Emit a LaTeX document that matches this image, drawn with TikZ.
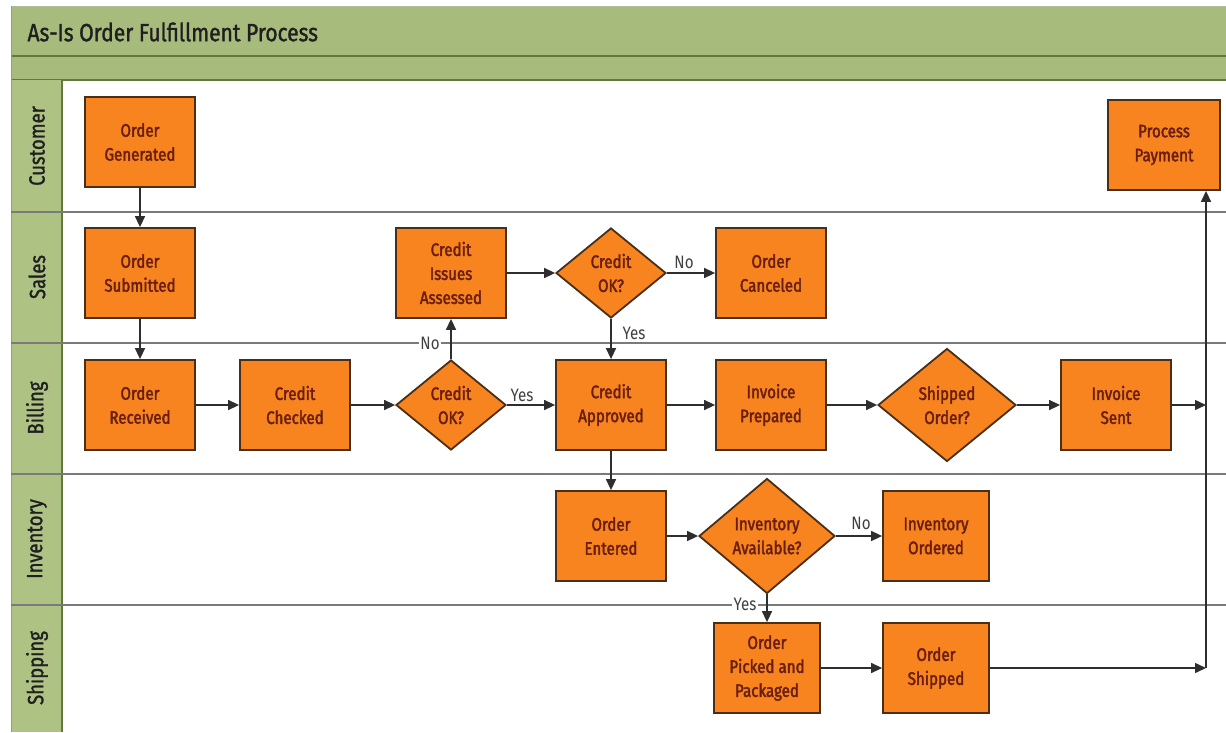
\documentclass[tikz,border=0pt]{standalone}
\usepackage{fontspec}
\setmainfont{Fira Sans}
\newfontfamily\cond{Fira Sans}[FakeStretch=0.84]
\newfontfamily\condmed{Fira Sans}[FakeStretch=0.84, FakeBold=1.3]
\newfontfamily\condbox{Fira Sans}[FakeStretch=0.84, FakeBold=2.2]
\usetikzlibrary{shapes.geometric,arrows.meta}
\definecolor{titlegreen}{HTML}{A7BB7C}
\definecolor{bordergreen}{HTML}{5F7A3C}
\definecolor{lanegreen}{HTML}{ADC283}
\definecolor{boxorange}{HTML}{F7841F}
\definecolor{boxborder}{HTML}{4A2E16}
\definecolor{boxtext}{HTML}{6A1E12}
\definecolor{lanegray}{HTML}{7A7A7A}
\definecolor{arrowgray}{HTML}{2E2E2E}
\tikzset{
  procbox/.style={draw=boxborder, line width=1.8pt, fill=boxorange, rectangle,
    minimum width=110pt, minimum height=90pt, inner sep=2pt, align=center,
    text=boxtext, font=\condbox\fontsize{18}{24}\selectfont},
  decbox/.style={draw=boxborder, line width=1.8pt, fill=boxorange, diamond,
    minimum width=110pt, minimum height=90pt, inner sep=0pt, align=center,
    text=boxtext, font=\condbox\fontsize{18}{24}\selectfont},
  arr/.style={draw=arrowgray, line width=1.4pt, -{Triangle[length=11pt,width=10pt]}},
  lanelabel/.style={rotate=90, font=\condmed\fontsize{22}{24}\selectfont, text=black!88},
  elabel/.style={font=\cond\fontsize{18}{20}\selectfont, text=black!75, inner sep=1.5pt},
  laneline/.style={draw=lanegray, line width=1.3pt}
}
\begin{document}
\begin{tikzpicture}[x=1pt,y=-1pt]
\useasboundingbox (0,0) rectangle (1226,732);
\fill[white] (0,0) rectangle (1226,732);
% header bars
\fill[titlegreen] (11,6) rectangle (1226,80);
\draw[bordergreen!50, line width=1pt] (11,6) -- (1226,6);
\draw[bordergreen, line width=1.6pt] (11,56) -- (1226,56);
\draw[bordergreen, line width=1.4pt] (11,80) -- (1226,80);
\node[anchor=west, font=\condmed\fontsize{25}{28}\selectfont, text=black!88] (title) at (24,32) {As-Is Order Fulfillment Process};
% lane label column
\fill[lanegreen] (11,80) rectangle (62,732);
\draw[bordergreen, line width=1.6pt] (62,80) -- (62,732);
\draw[bordergreen!70, line width=1pt] (11,6) -- (11,732);
% lane lines
\foreach \yy in {212,343,474,605} { \draw[laneline] (11,\yy) -- (1226,\yy); }
\node[lanelabel] (lcust) at (37,146) {Customer};
\node[lanelabel] (lsales) at (37,277) {Sales};
\node[lanelabel] (lbill) at (37,408) {Billing};
\node[lanelabel] (linv) at (37,539) {Inventory};
\node[lanelabel] (lship) at (37,668) {Shipping};
% nodes
\node[procbox] (og) at (140,142) {Order\\Generated};
\node[procbox] (os) at (140,273) {Order\\Submitted};
\node[procbox] (or) at (140,405) {Order\\Received};
\node[procbox] (cc) at (295,405) {Credit\\Checked};
\node[decbox] (d1) at (451,405) {Credit\\OK?};
\node[procbox] (cia) at (451,273) {Credit\\Issues\\Assessed};
\node[decbox] (d2) at (611,273) {Credit\\OK?};
\node[procbox] (oc) at (771,273) {Order\\Canceled};
\node[procbox] (ca) at (611,405) {Credit\\Approved};
\node[procbox] (ip) at (771,405) {Invoice\\Prepared};
\node[decbox, minimum width=138pt, minimum height=113pt] (so) at (947,405) {Shipped\\Order?};
\node[procbox] (is) at (1116,405) {Invoice\\Sent};
\node[procbox] (oe) at (611,536) {Order\\Entered};
\node[decbox, minimum width=136pt, minimum height=115pt] (ia) at (767,536) {Inventory\\Available?};
\node[procbox, minimum width=106pt] (io) at (936,536) {Inventory\\Ordered};
\node[procbox, minimum width=106pt] (opp) at (767,668) {Order\\Picked and\\Packaged};
\node[procbox, minimum width=106pt] (osh) at (936,668) {Order\\Shipped};
\node[procbox, minimum width=112pt] (pp) at (1164,145) {Process\\Payment};
\coordinate (r1) at (1206,405);
\coordinate (r2) at (1206,668);
% connectors
\draw[arr] (og) -- (os);
\draw[arr] (os) -- (or);
\draw[arr] (or) -- (cc);
\draw[arr] (cc) -- (d1);
\draw[arr] (d1) -- (ca);
\draw[arr] (d1) -- (cia);
\draw[arr] (cia) -- (d2);
\draw[arr] (d2) -- (oc);
\draw[arr] (d2) -- (ca);
\draw[arr] (ca) -- (ip);
\draw[arr] (ip) -- (so);
\draw[arr] (so) -- (is);
\draw[arr] (is) -- (r1);
\draw[arr] (ca) -- (oe);
\draw[arr] (oe) -- (ia);
\draw[arr] (ia) -- (io);
\draw[arr] (ia) -- (opp);
\draw[arr] (opp) -- (osh);
\draw[arr] (osh) -- (r2);
\draw[arr] (r2) -- (r2 |- pp.south);
% edge labels
\node[elabel] (lyes1) at (522,395) {Yes};
\node[elabel, fill=white] (lno1) at (430,343) {No};
\node[elabel] (lno2) at (684,262) {No};
\node[elabel] (lyes2) at (634,333) {Yes};
\node[elabel] (lno3) at (861,523) {No};
\node[elabel, fill=white] (lyes3) at (745,604) {Yes};
\end{tikzpicture}
\end{document}
